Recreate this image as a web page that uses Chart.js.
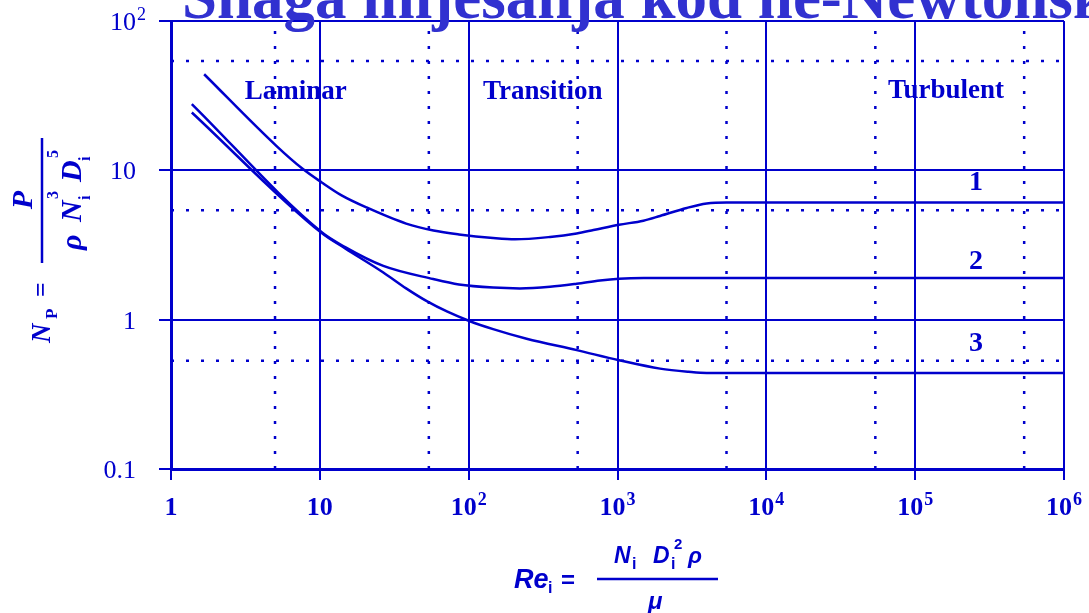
<!DOCTYPE html>
<html>
<head>
<meta charset="utf-8">
<script src="https://cdn.jsdelivr.net/npm/chart.js@4.4.1/dist/chart.umd.min.js"></script>
<style>
  html, body { margin: 0; padding: 0; background: #fff; }
  #c { display: block; }
</style>
</head>
<body>
<canvas id="c" width="1089" height="613"></canvas>
<script>
// Power number vs impeller Reynolds number (log-log)
const BLUE = '#0000cc';
const TITLE_BLUE = '#3131d0';

const xTicks    = [1, 10, 100, 1e3, 1e4, 1e5, 1e6];
const xTickBase = ['1', '10', '10', '10', '10', '10', '10'];
const xTickExp  = ['', '', '2', '3', '4', '5', '6'];
const yTicks    = [0.1, 1, 10, 100];
const yTickBase = ['0.1', '1', '10', '10'];
const yTickExp  = ['', '', '', '2'];

const dottedX = [5, 54, 540, 5400, 54000, 540000];
const dottedY = [0.53, 5.4, 54];

// curve 1
const re1 = [1.67, 5.1, 7.7, 10.3, 14, 20.6, 38, 58, 86, 146, 205, 352, 532, 689, 1023, 1493, 1932, 2917, 3975, 5400, 1e6];
const np1 = [44, 14.6, 10.2, 8.3, 6.8, 5.64, 4.4, 3.95, 3.72, 3.52, 3.45, 3.58, 3.78, 3.98, 4.32, 4.6, 4.95, 5.6, 6.0, 6.1, 6.1];
// curve 2
const re2 = [1.38, 10.3, 14.8, 26.7, 57.8, 86, 146, 221, 352, 532, 763, 1023, 1500, 1e6];
const np2 = [27.8, 3.85, 3.06, 2.29, 1.87, 1.72, 1.64, 1.62, 1.66, 1.74, 1.83, 1.88, 1.9, 1.9];
// curve 3
const re3 = [1.38, 10.3, 14.8, 26.7, 38, 52.3, 72, 101, 146, 245, 532, 1023, 1932, 3000, 3975, 1e6];
const np3 = [24.4, 3.8, 3.0, 2.07, 1.62, 1.33, 1.13, 0.98, 0.864, 0.745, 0.625, 0.535, 0.47, 0.448, 0.44, 0.44];

const regionLabels = ['Laminar', 'Transition', 'Turbulent'];
const regionRe     = [6.9, 315, 161000];
const regionNp     = [33.4, 33.4, 34];
const curveLabels  = ['1', '2', '3'];
const curveLabelRe = [256000, 256000, 256000];
const curveLabelNp = [8.2, 2.46, 0.686];

const titleText = 'Snaga miješanja kod ne-Newtonskih fluida';

const toPts = (xs, ys) => xs.map((x, i) => ({ x: x, y: ys[i] }));

function curve(xs, ys) {
  return {
    data: toPts(xs, ys),
    borderColor: BLUE,
    borderWidth: 2.5,
    pointRadius: 0,
    fill: false,
    cubicInterpolationMode: 'monotone',
  };
}

function dotted(pts) {
  return {
    data: pts,
    borderColor: BLUE,
    borderWidth: 2.5,
    borderDash: [3, 12],
    pointRadius: 0,
    fill: false,
    tension: 0,
  };
}

const datasets = [
  ...dottedX.map(v => dotted([{ x: v, y: 0.1 }, { x: v, y: 100 }])),
  ...dottedY.map(v => dotted([{ x: 1, y: v }, { x: 1e6, y: v }])),
  curve(re1, np1),
  curve(re2, np2),
  curve(re3, np3),
];

function powLabel(ctx, base, exp, x, y, align, baseFont, expFont) {
  ctx.font = baseFont;
  const bw = ctx.measureText(base).width;
  ctx.font = expFont;
  const ew = exp ? ctx.measureText(exp).width + 1 : 0;
  const left = align === 'center' ? x - (bw + ew) / 2 : x - bw;
  ctx.textAlign = 'left';
  ctx.font = baseFont;
  ctx.fillText(base, left, y);
  if (exp) {
    ctx.font = expFont;
    ctx.fillText(exp, left + bw + 1, y - 10);
  }
}

const textPlugin = {
  id: 'texts',
  afterDraw(chart) {
    const ctx = chart.ctx;
    const xs = chart.scales.x, ys = chart.scales.y;
    ctx.save();
    ctx.fillStyle = BLUE;
    ctx.strokeStyle = BLUE;

    // tick labels
    ctx.textBaseline = 'alphabetic';
    xTicks.forEach((v, i) => {
      powLabel(ctx, xTickBase[i], xTickExp[i], xs.getPixelForValue(v), 515, 'center',
        "bold 26px 'Liberation Serif'", "bold 18px 'Liberation Serif'");
    });
    yTicks.forEach((v, i) => {
      powLabel(ctx, yTickBase[i], yTickExp[i], 136, ys.getPixelForValue(v) + 9, 'right',
        "26px 'Liberation Serif'", "18px 'Liberation Serif'");
    });

    // region & curve labels
    ctx.textAlign = 'center';
    ctx.textBaseline = 'middle';
    ctx.font = "bold 27px 'Liberation Serif'";
    regionLabels.forEach((t, i) => {
      ctx.fillText(t, xs.getPixelForValue(regionRe[i]), ys.getPixelForValue(regionNp[i]));
    });
    ctx.font = "bold 28px 'Liberation Serif'";
    curveLabels.forEach((t, i) => {
      ctx.fillText(t, xs.getPixelForValue(curveLabelRe[i]), ys.getPixelForValue(curveLabelNp[i]));
    });

    // x axis title: Re_i = N_i D_i^2 rho / mu
    ctx.textAlign = 'left';
    ctx.textBaseline = 'alphabetic';
    const sansB = "bold 16px 'Liberation Sans'";
    ctx.font = "bold italic 27px 'Liberation Sans'"; ctx.fillText('Re', 514, 588);
    ctx.font = sansB;  ctx.fillText('i', 548, 593);
    ctx.font = "bold 24px 'Liberation Sans'"; ctx.fillText('=', 561, 588);
    ctx.lineWidth = 2.5;
    ctx.beginPath(); ctx.moveTo(597, 579); ctx.lineTo(718, 579); ctx.stroke();
    ctx.font = "bold italic 23px 'Liberation Sans'";
    ctx.fillText('N', 614, 563);
    ctx.fillText('D', 653, 563);
    ctx.fillText('ρ', 688, 563);
    ctx.font = sansB;
    ctx.fillText('i', 632, 569);
    ctx.fillText('i', 671, 569);
    ctx.font = "bold 15px 'Liberation Sans'";
    ctx.fillText('2', 674, 549);
    ctx.font = "bold italic 24px 'Liberation Sans'";
    ctx.fillText('μ', 648, 609);

    // y axis title, rotated: N_P = P / (rho N_i^3 D_i^5)
    ctx.save();
    ctx.translate(0, 300);
    ctx.rotate(-Math.PI / 2);
    ctx.font = "bold italic 27px 'Liberation Serif'";
    ctx.fillText('N', -43, 50);
    ctx.font = "bold 17px 'Liberation Serif'";
    ctx.fillText('P', -19, 57);
    ctx.font = "bold 26px 'Liberation Serif'";
    ctx.fillText('=', 3, 49);
    ctx.lineWidth = 2.5;
    ctx.beginPath(); ctx.moveTo(37, 42); ctx.lineTo(162, 42); ctx.stroke();
    ctx.font = "bold italic 30px 'Liberation Serif'";
    ctx.textAlign = 'center';
    ctx.fillText('P', 100, 32);
    ctx.textAlign = 'left';
    ctx.fillText('ρ', 50, 81);
    ctx.fillText('N', 78, 81);
    ctx.fillText('D', 118, 81);
    ctx.font = "bold 16px 'Liberation Serif'";
    ctx.fillText('i', 100, 90);
    ctx.fillText('i', 139, 90);
    ctx.fillText('3', 101, 58);
    ctx.fillText('5', 142, 58);
    ctx.restore();

    // page title (clipped at the top edge)
    ctx.fillStyle = TITLE_BLUE;
    ctx.font = "bold 63px 'Liberation Serif'";
    ctx.textAlign = 'left';
    ctx.fillText(titleText, 182, 18);
    ctx.restore();
  },
};

new Chart(document.getElementById('c'), {
  type: 'line',
  data: { datasets },
  options: {
    responsive: false,
    animation: false,
    layout: { padding: { top: 21, right: 25, left: 0, bottom: 0 } },
    plugins: {
      legend: { display: false },
      tooltip: { enabled: false },
    },
    scales: {
      x: {
        type: 'logarithmic',
        min: 1,
        max: 1e6,
        afterBuildTicks: s => { s.ticks = xTicks.map(v => ({ value: v })); },
        afterFit: s => { s.height = 144; },
        ticks: { display: false },
        grid: { color: BLUE, lineWidth: 2, tickLength: 11 },
        border: { color: BLUE, width: 3 },
      },
      y: {
        type: 'logarithmic',
        min: 0.1,
        max: 100,
        afterBuildTicks: s => { s.ticks = yTicks.map(v => ({ value: v })); },
        afterFit: s => { s.width = 171; },
        ticks: { display: false },
        grid: { color: BLUE, lineWidth: 2, tickLength: 12 },
        border: { color: BLUE, width: 3 },
      },
    },
  },
  plugins: [textPlugin],
});
</script>
</body>
</html>
